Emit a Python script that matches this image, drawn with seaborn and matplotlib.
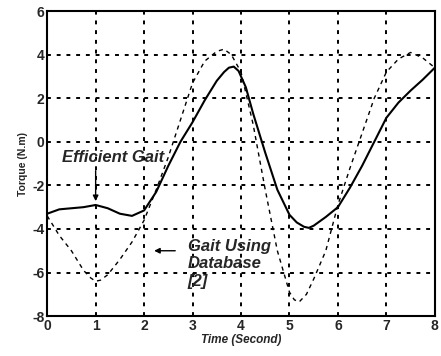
import matplotlib
matplotlib.use("Agg")
import matplotlib.pyplot as plt
import seaborn as sns
import pandas as pd

time_eff = [0, 0.25, 0.5, 0.75, 1.0, 1.25, 1.5, 1.75, 2.0, 2.25, 2.5, 2.75, 3.0, 3.25, 3.5, 3.65, 3.75, 3.85,
            3.95, 4.1, 4.25, 4.5, 4.75, 5.0, 5.15, 5.3, 5.4, 5.5, 5.75, 6.0, 6.25, 6.5, 6.75, 7.0, 7.25, 7.5, 7.75, 8.0]
torque_eff = [-3.3, -3.1, -3.05, -3.0, -2.9, -3.05, -3.3, -3.4, -3.15, -2.3, -1.1, 0.0, 0.9, 1.9, 2.8, 3.2, 3.4, 3.45,
              3.25, 2.5, 1.3, -0.5, -2.2, -3.35, -3.7, -3.9, -3.95, -3.85, -3.45, -3.0, -2.1, -1.1, 0.0, 1.1, 1.8, 2.35, 2.85, 3.4]

time_db = [0, 0.25, 0.5, 0.75, 0.9, 1.0, 1.1, 1.25, 1.5, 1.75, 2.0, 2.25, 2.5, 2.75, 3.0, 3.25, 3.5, 3.65, 3.8,
           4.0, 4.25, 4.5, 4.75, 5.0, 5.1, 5.2, 5.35, 5.5, 5.75, 6.0, 6.25, 6.5, 6.75, 7.0, 7.25, 7.5, 7.75, 8.0]
torque_db = [-3.4, -4.3, -5.0, -5.9, -6.25, -6.4, -6.35, -6.1, -5.4, -4.6, -3.6, -2.2, -0.7, 1.0, 2.7, 3.7, 4.15, 4.25, 4.0,
             3.2, 0.8, -2.2, -5.0, -6.9, -7.25, -7.35, -7.0, -6.3, -5.0, -2.9, -1.2, 0.4, 2.0, 3.2, 3.8, 4.1, 3.85, 3.4]

xticks = [0, 1, 2, 3, 4, 5, 6, 7, 8]
yticks = [-8, -6, -4, -2, 0, 2, 4, 6]

sns.set_style("white")
plt.rcParams['font.family'] = ['Liberation Sans', 'DejaVu Sans']

fig = plt.figure(figsize=(4.41, 3.56), dpi=100)
ax = fig.add_axes([0.107, 0.112, 0.879, 0.857])

df_eff = pd.DataFrame({"t": time_eff, "v": torque_eff})
df_db = pd.DataFrame({"t": time_db, "v": torque_db})

sns.lineplot(data=df_db, x="t", y="v", ax=ax, color="black", linewidth=1.0,
             linestyle=(0, (3, 3)), sort=False)
sns.lineplot(data=df_eff, x="t", y="v", ax=ax, color="black", linewidth=1.5, sort=False)

ax.set_xlim(0, 8)
ax.set_ylim(-8, 6)
ax.set_xticks(xticks)
ax.set_yticks(yticks)
ax.set_xticklabels([str(v) for v in xticks], fontsize=10, fontweight='bold')
ax.set_yticklabels([str(v) for v in yticks], fontsize=10, fontweight='bold')
ax.tick_params(axis='both', length=0, pad=2)
ax.grid(True, color='black', linestyle=(0, (2, 3)), linewidth=1.4)
for s in ax.spines.values():
    s.set_color('black')
    s.set_linewidth(1.5)

ax.set_xlabel("Time (Second)", fontsize=8.5, fontweight='bold', fontstyle='italic', labelpad=1)
ax.set_ylabel("Torque (N.m)", fontsize=7.5, fontweight='bold', labelpad=3)

ax.text(0.3, -0.7, "Efficient Gait", fontsize=12, fontweight='bold', fontstyle='italic',
        ha='left', va='center')
ax.annotate("", xy=(1.0, -2.85), xytext=(1.0, -1.2),
            arrowprops=dict(arrowstyle='-|>', color='black', lw=1.0, mutation_scale=8))
ax.text(2.9, -4.45, "Gait Using\nDatabase\n[2]", fontsize=12, fontweight='bold', fontstyle='italic',
        ha='left', va='top', linespacing=1.2)
ax.annotate("", xy=(2.15, -5.0), xytext=(2.7, -5.0),
            arrowprops=dict(arrowstyle='-|>', color='black', lw=1.0, mutation_scale=8))

fig.savefig("out.png", dpi=100)
